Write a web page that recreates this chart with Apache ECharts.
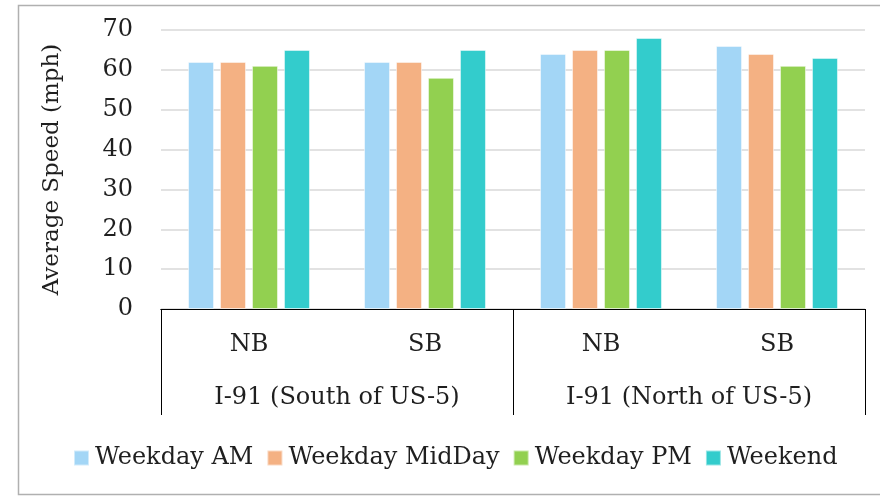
<!DOCTYPE html>
<html>
<head>
<meta charset="utf-8">
<script src="https://cdn.jsdelivr.net/npm/echarts@6/dist/echarts.min.js"></script>
<style>html,body{margin:0;padding:0;background:#fff;}#c{width:880px;height:496px;}</style>
</head>
<body>
<div id="c"></div>
<script>
const directions = ['NB', 'SB', 'NB', 'SB'];
const segments = ['I-91 (South of US-5)', 'I-91 (North of US-5)'];
const weekdayAM = [62, 62, 64, 66];
const weekdayMidDay = [62, 62, 65, 64];
const weekdayPM = [61, 58, 65, 61];
const weekend = [65, 65, 68, 63];
const seriesNames = ['Weekday AM', 'Weekday MidDay', 'Weekday PM', 'Weekend'];
const colors = ['#a3d6f6', '#f4b183', '#92d050', '#33cccc'];

const FONT = 'DejaVu Serif';
const TXT = '#1f1f1f';
const chart = echarts.init(document.getElementById('c'), null, {renderer: 'canvas'});
const values = [weekdayAM, weekdayMidDay, weekdayPM, weekend];
chart.setOption({
  animation: false,
  textStyle: {fontFamily: FONT},
  color: colors,
  graphic: [{
    type: 'rect', silent: true, z: -1,
    shape: {x: 18.5, y: 5.5, width: 900, height: 489},
    style: {fill: 'none', stroke: '#b0b0b0', lineWidth: 1.5}
  }],
  grid: {left: 161, right: 15, top: 30, bottom: 187, containLabel: false},
  legend: {
    data: seriesNames, left: 73, top: 446, padding: 0,
    itemWidth: 15, itemHeight: 15, itemGap: 13,
    icon: 'rect',
    textStyle: {fontFamily: FONT, fontSize: 24, color: TXT, padding: [0, 0, 0, 1]}
  },
  xAxis: [{
    type: 'category', data: directions, position: 'bottom',
    axisLine: {show: true, lineStyle: {color: '#000', width: 1}},
    axisTick: {show: false},
    axisLabel: {fontFamily: FONT, fontSize: 24, color: TXT, margin: 24}
  }, {
    type: 'category', data: segments, position: 'bottom',
    axisLine: {show: true, lineStyle: {color: '#000', width: 1}},
    axisTick: {show: true, length: 106, lineStyle: {color: '#000', width: 1}},
    axisLabel: {fontFamily: FONT, fontSize: 24, color: TXT, margin: 77}
  }],
  yAxis: {
    type: 'value', min: 0, max: 70, interval: 10,
    name: 'Average Speed (mph)', nameLocation: 'middle', nameGap: 97,
    nameTextStyle: {fontFamily: FONT, fontSize: 23, color: TXT},
    axisLine: {show: false}, axisTick: {show: false},
    axisLabel: {fontFamily: FONT, fontSize: 24, color: TXT, margin: 28},
    splitLine: {lineStyle: {color: '#d9d9d9', width: 1.5}}
  },
  series: seriesNames.map((n, i) => ({
    name: n, type: 'bar', xAxisIndex: 0, data: values[i],
    barWidth: 26, barGap: '23%',
    itemStyle: {color: colors[i], borderColor: 'rgba(255,255,255,0.5)', borderWidth: 1}
  }))
});
</script>
</body>
</html>
